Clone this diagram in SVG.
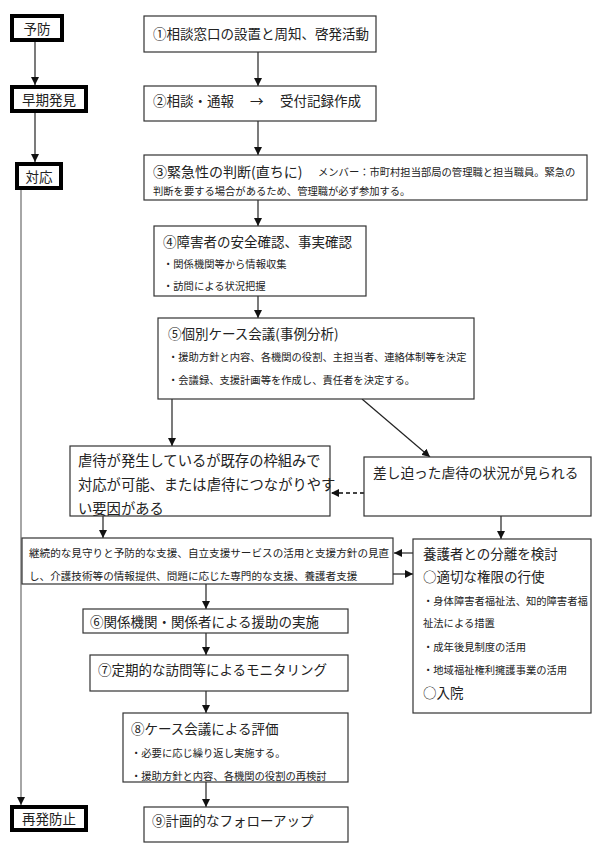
<svg xmlns="http://www.w3.org/2000/svg" width="600" height="852" viewBox="0 0 600 852">
<defs>
<style>
.box{fill:#fff;stroke:#333;stroke-width:1.2}
.thick{fill:#fff;stroke:#000;stroke-width:4}
text{font-family:"Noto Sans CJK JP","Noto Sans CJK SC",sans-serif;fill:#222;dominant-baseline:central}
.t{font-size:13.5px}
.s{font-size:10.3px}
.m{text-anchor:middle}
.ln{stroke:#222;stroke-width:1.2;fill:none;marker-end:url(#ah)}
.gr{stroke:#888;stroke-width:1.5;fill:none;marker-end:url(#ah)}
.dash{stroke:#444;stroke-width:2;stroke-dasharray:4 3;fill:none;marker-end:url(#ah)}
</style>
<marker id="ah" markerUnits="userSpaceOnUse" markerWidth="8" markerHeight="8" refX="8" refY="4" orient="auto">
<path d="M0,0 L8,4 L0,8 z" fill="#111"/>
</marker>
</defs>
<rect width="600" height="852" fill="#fff"/>

<g id="connectors">
<line class="ln" x1="35" y1="42" x2="35" y2="85"/>
<line class="ln" x1="35" y1="113" x2="35" y2="162"/>
<line class="gr" x1="21" y1="190" x2="21" y2="805"/>
<line class="ln" x1="258" y1="52" x2="258" y2="86"/>
<line class="ln" x1="258" y1="121" x2="258" y2="155"/>
<line class="ln" x1="258" y1="200" x2="258" y2="226"/>
<line class="ln" x1="258" y1="296" x2="258" y2="318"/>
<line class="ln" x1="172" y1="399" x2="172" y2="446"/>
<line class="ln" x1="362" y1="399" x2="430" y2="457"/>
<line class="dash" x1="364" y1="493" x2="331" y2="493"/>
<line class="ln" x1="103" y1="516" x2="103" y2="538"/>
<line class="ln" x1="501" y1="516" x2="501" y2="539"/>
<line class="ln" x1="413" y1="553" x2="394" y2="553"/>
<line class="ln" x1="393" y1="574" x2="413" y2="574"/>
<line class="ln" x1="206" y1="584" x2="206" y2="609"/>
<line class="ln" x1="206" y1="633" x2="206" y2="655"/>
<line class="ln" x1="206" y1="691" x2="206" y2="713"/>
<line class="ln" x1="206" y1="782" x2="206" y2="807"/>
</g>

<g id="yobo"><rect class="thick" x="12" y="16" width="50" height="24"/><text class="t m" x="37" y="28">予防</text></g>
<g id="soki"><rect class="thick" x="12" y="87" width="74" height="24"/><text class="t m" x="49" y="99">早期発見</text></g>
<g id="taio"><rect class="thick" x="17" y="164" width="44" height="24"/><text class="t m" x="39" y="176">対応</text></g>
<g id="saihatsu"><rect class="thick" x="12" y="807" width="74" height="23"/><text class="t m" x="49" y="818">再発防止</text></g>

<g id="n1"><rect class="box" x="144" y="16" width="232" height="36"/><text class="t" x="153" y="33">①相談窓口の設置と周知、啓発活動</text></g>
<g id="n2"><rect class="box" x="144" y="86" width="232" height="35"/><text class="t" x="153" y="100">②相談・通報</text><text class="t" x="250" y="100">→</text><text class="t" x="280" y="100">受付記録作成</text></g>
<g id="n3"><rect class="box" x="144" y="155" width="443" height="45"/>
<text class="t" x="153" y="171" style="font-size:14px">③緊急性の判断(直ちに)</text>
<text class="s" x="318" y="171">メンバー：市町村担当部局の管理職と担当職員。緊急の</text>
<text class="s" x="153" y="190">判断を要する場合があるため、管理職が必ず参加する。</text></g>
<g id="n4"><rect class="box" x="154" y="226" width="212" height="70"/>
<text class="t" x="163" y="241">④障害者の安全確認、事実確認</text>
<text class="s" x="163" y="263">・関係機関等から情報収集</text>
<text class="s" x="163" y="285">・訪問による状況把握</text></g>
<g id="n5"><rect class="box" x="158" y="318" width="316" height="81"/>
<text class="t" x="168" y="333">⑤個別ケース会議(事例分析)</text>
<text class="s" x="168" y="356">・援助方針と内容、各機関の役割、主担当者、連絡体制等を決定</text>
<text class="s" x="168" y="379">・会議録、支援計画等を作成し、責任者を決定する。</text></g>
<g id="gyakutai"><rect class="box" x="70" y="446" width="260" height="70"/>
<text class="t" x="78" y="459" style="font-size:14.3px">虐待が発生しているが既存の枠組みで</text>
<text class="t" x="78" y="483" style="font-size:14.3px">対応が可能、または虐待につながりやす</text>
<text class="t" x="78" y="507" style="font-size:14.3px">い要因がある</text></g>
<g id="sashisematta"><rect class="box" x="364" y="457" width="227" height="59"/>
<text class="t" x="373" y="472" style="font-size:13.7px">差し迫った虐待の状況が見られる</text></g>
<g id="keizoku"><rect class="box" x="22" y="538" width="371" height="46"/>
<text class="s" x="29" y="552" style="font-size:10.6px">継続的な見守りと予防的な支援、自立支援サービスの活用と支援方針の見直</text>
<text class="s" x="29" y="575" style="font-size:10.6px">し、介護技術等の情報提供、問題に応じた専門的な支援、養護者支援</text></g>
<g id="bunri"><rect class="box" x="413" y="539" width="178" height="174"/>
<text class="t" x="423" y="553">養護者との分離を検討</text>
<text class="t" x="423" y="576">○適切な権限の行使</text>
<text class="s" x="423" y="600">・身体障害者福祉法、知的障害者福</text>
<text class="s" x="423" y="622">祉法による措置</text>
<text class="s" x="423" y="646">・成年後見制度の活用</text>
<text class="s" x="423" y="669">・地域福祉権利擁護事業の活用</text>
<text class="t" x="423" y="692">○入院</text></g>
<g id="n6"><rect class="box" x="83" y="609" width="265" height="24"/><text class="t" x="90" y="621">⑥関係機関・関係者による援助の実施</text></g>
<g id="n7"><rect class="box" x="90" y="655" width="258" height="36"/><text class="t" x="98" y="669">⑦定期的な訪問等によるモニタリング</text></g>
<g id="n8"><rect class="box" x="123" y="713" width="225" height="69"/>
<text class="t" x="131" y="728">⑧ケース会議による評価</text>
<text class="s" x="131" y="752">・必要に応じ繰り返し実施する。</text>
<text class="s" x="131" y="775">・援助方針と内容、各機関の役割の再検討</text></g>
<g id="n9"><rect class="box" x="144" y="807" width="204" height="35"/><text class="t" x="152" y="820">⑨計画的なフォローアップ</text></g>
</svg>
